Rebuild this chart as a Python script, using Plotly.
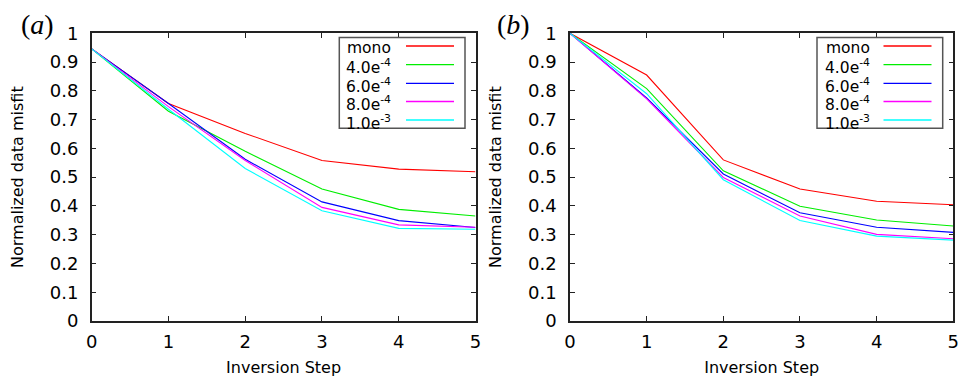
import plotly.graph_objects as go

steps = [0, 1, 2, 3, 4, 5]
series_names = ["mono", "4.0e<sup>-4</sup>", "6.0e<sup>-4</sup>", "8.0e<sup>-4</sup>", "1.0e<sup>-3</sup>"]
colors = ["#ff0000", "#00ee00", "#0000ff", "#ff00ff", "#00ffff"]

# panel (a)
a_mono = [0.946, 0.756, 0.652, 0.558, 0.528, 0.519]
a_4e4 = [0.946, 0.729, 0.590, 0.459, 0.388, 0.365]
a_6e4 = [0.946, 0.756, 0.562, 0.414, 0.349, 0.325]
a_8e4 = [0.946, 0.745, 0.558, 0.395, 0.334, 0.326]
a_1e3 = [0.946, 0.736, 0.530, 0.383, 0.322, 0.319]

# panel (b)
b_mono = [1.0, 0.855, 0.560, 0.459, 0.416, 0.404]
b_4e4 = [1.0, 0.808, 0.522, 0.399, 0.351, 0.330]
b_6e4 = [1.0, 0.775, 0.511, 0.376, 0.326, 0.308]
b_8e4 = [1.0, 0.772, 0.499, 0.365, 0.301, 0.286]
b_1e3 = [1.0, 0.790, 0.491, 0.349, 0.295, 0.281]

panel_a = [a_mono, a_4e4, a_6e4, a_8e4, a_1e3]
panel_b = [b_mono, b_4e4, b_6e4, b_8e4, b_1e3]

y_ticks = [0, 0.1, 0.2, 0.3, 0.4, 0.5, 0.6, 0.7, 0.8, 0.9, 1]
y_ticktext = ["0", "0.1", "0.2", "0.3", "0.4", "0.5", "0.6", "0.7", "0.8", "0.9", "1"]
panel_labels = ["(<i>a</i>)", "(<i>b</i>)"]
x_title = "Inversion Step"
y_title = "Normalized data misfit"

W, H = 960, 378
FONT = "DejaVu Sans"

fig = go.Figure()

for data, xa, ya in [(panel_a, "x", "y"), (panel_b, "x2", "y2")]:
    for vals, c, n in zip(data, colors, series_names):
        fig.add_trace(go.Scatter(x=steps, y=vals, mode="lines", line=dict(color=c, width=1.1),
                                 name=n, showlegend=False, xaxis=xa, yaxis=ya))

plot_top, plot_bot = 33.3, 321
ydom = [1 - plot_bot / H, 1 - plot_top / H]
axis_common = dict(showline=True, linecolor="#222", linewidth=1.5, mirror="ticks", ticks="inside",
                   ticklen=5, tickcolor="#222", tickwidth=1.2, showgrid=False, zeroline=False,
                   automargin=False, ticklabeloverflow="allow",
                   tickfont=dict(family=FONT, size=18, color="black"))
title_font = dict(family=FONT, size=16, color="black")

fig.update_layout(
    width=W, height=H, margin=dict(l=0, r=0, t=0, b=0),
    paper_bgcolor="white", plot_bgcolor="white",
    xaxis=dict(domain=[91.7 / W, 475.5 / W], range=[0, 5], tickvals=steps, anchor="y",
               title=dict(text=x_title, font=title_font, standoff=10),
               ticklabelstandoff=4, **axis_common),
    yaxis=dict(domain=ydom, range=[0, 1], tickvals=y_ticks, ticktext=y_ticktext, anchor="x",
               title=dict(text=y_title, font=title_font, standoff=22),
               ticklabelstandoff=8, **axis_common),
    xaxis2=dict(domain=[570 / W, 953.3 / W], range=[0, 5], tickvals=steps, anchor="y2",
                title=dict(text=x_title, font=title_font, standoff=10),
                ticklabelstandoff=4, **axis_common),
    yaxis2=dict(domain=ydom, range=[0, 1], tickvals=y_ticks, ticktext=y_ticktext, anchor="x2",
                title=dict(text=y_title, font=title_font, standoff=22),
                ticklabelstandoff=8, **axis_common),
)

shapes = []
annotations = []

# panel labels
for lbl, px in zip(panel_labels, [37, 513]):
    annotations.append(dict(text=lbl, x=px / W, y=1 - 24 / H, xref="paper", yref="paper",
                            xanchor="center", yanchor="middle", showarrow=False,
                            font=dict(family="Liberation Serif", size=28, color="black")))

# custom gnuplot-style legends
row_y = [46, 64.7, 83.3, 101.5, 120]
legend_geo = [
    dict(box=(339.3, 37.5, 465, 128.3), text_r=393, line=(406, 454)),
    dict(box=(817, 37.5, 942.7, 128.3), text_r=872, line=(883.5, 931.5)),
]
for g in legend_geo:
    x0, y0, x1, y1 = g["box"]
    shapes.append(dict(type="rect", xref="paper", yref="paper", x0=x0 / W, x1=x1 / W,
                       y0=1 - y1 / H, y1=1 - y0 / H, line=dict(color="#555", width=1.5),
                       fillcolor="white", layer="above"))
    for ry, c, n in zip(row_y, colors, series_names):
        shapes.append(dict(type="line", xref="paper", yref="paper", x0=g["line"][0] / W, x1=g["line"][1] / W,
                           y0=1 - ry / H, y1=1 - ry / H, line=dict(color=c, width=1.3), layer="above"))
        annotations.append(dict(text=n, x=g["text_r"] / W, y=1 - (ry + 2) / H, xref="paper", yref="paper",
                                xanchor="right", yanchor="middle", showarrow=False,
                                font=dict(family=FONT, size=15.5, color="black")))

fig.update_layout(shapes=shapes, annotations=annotations)
fig.write_html("out.html", config={"displayModeBar": False},
               post_script="document.body.style.margin='0';document.body.style.overflow='hidden';")
